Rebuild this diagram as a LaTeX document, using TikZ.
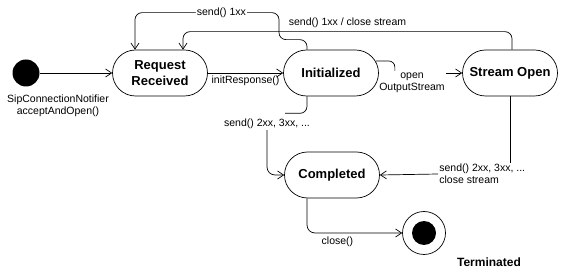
\documentclass[tikz,border=0pt]{standalone}
\usepackage{fontspec}
\setmainfont{Liberation Sans}
\usetikzlibrary{arrows.meta}

\begin{document}
\begin{tikzpicture}[
        x=1pt, y=-1pt,
        font=\fontsize{10.5}{12}\selectfont,
        line width=0.7pt,
        % states with round ends
        stbox/.style={rectangle, rounded corners=23pt, draw, align=center, minimum width=95pt, minimum height=46pt, font=\fontsize{13}{16}\selectfont\bfseries, fill=white},
        % start and end points
        startdot/.style={circle, fill=black, minimum size=27pt, inner sep=0pt},
        enddot/.style={circle, draw, minimum size=43pt, inner sep=0pt, path picture={\fill[black] (path picture bounding box.center) circle (12pt);}},
        % transitions and their texts
        trans/.style={-{Straight Barb[length=6pt,width=8pt]}},
        lbl/.style={inner sep=1pt, align=center}
    ]
    \useasboundingbox (0,0) rectangle (562,272);

    % --- states ---
    \node[startdot] (start) at (26,73) {};
    \node[lbl] (startlbl) at (58,106) {SipConnectionNotifier\\acceptAndOpen()};

    \node[stbox] (recv) at (160,73) {Request\\Received};
    \node[stbox] (init) at (331,73) {Initialized};
    \node[stbox] (open) at (510,73) {Stream Open};
    \node[stbox] (done) at (332,175) {Completed};

    \node[enddot] (term) at (424,233) {};
    \node[font=\fontsize{12}{14}\selectfont\bfseries] (termlbl) at (489,262) {Terminated};

    % texts that break their lines
    \node[lbl] (opnlbl) at (412,83) {open\\OutputStream};
    \node[lbl] (sd2lbl) at (267,124) {send() 2xx, 3xx, ...};
    \node[lbl, align=left, anchor=west] (sd3lbl) at (438,174) {send() 2xx, 3xx, ...\\close stream};

    % --- transitions ---
    \draw[trans] (start) -- (recv.west |- start);
    \draw[trans] (recv.east) -- node[below, lbl, yshift=-2pt] {initResponse()} (init.west);

    % back to Request Received
    \draw[trans, rounded corners=7pt] ([xshift=-24pt]init.north) -- ++(0,-10) -- ++(-28,0) -- ++(0,-27)
        -| node[pos=0.2, lbl, fill=white] {send() 1xx} ([xshift=-25pt]recv.north);
    \draw[trans, rounded corners=7pt] ([xshift=2pt]open.north) -- ++(0,-18)
        -| node[pos=0.25, above, lbl, yshift=3pt] {send() 1xx / close stream} ([xshift=23pt]recv.north);

    % Initialized -> Stream Open
    \draw[rounded corners=6pt] ([xshift=-3pt,yshift=12pt]init.east) -- ++(19,0) -- ++(0,10);
    \draw[trans] (opnlbl.east |- open.west) -- (open.west);

    % into Completed
    \draw[rounded corners=7pt] ([xshift=-24pt]init.south) -- ++(0,17) -- ++(-22,0);
    \draw[trans, rounded corners=8pt] (sd2lbl.south) |- (done.west);
    \draw (open.south) -- (open.south |- sd3lbl.north);
    \draw[trans] (sd3lbl.west) -- (done.east);

    % Completed -> end
    \draw[trans, rounded corners=8pt] ([xshift=-25pt]done.south) |- node[below, pos=0.66, lbl, yshift=-3pt] {close()} (term.west);

\end{tikzpicture}
\end{document}
